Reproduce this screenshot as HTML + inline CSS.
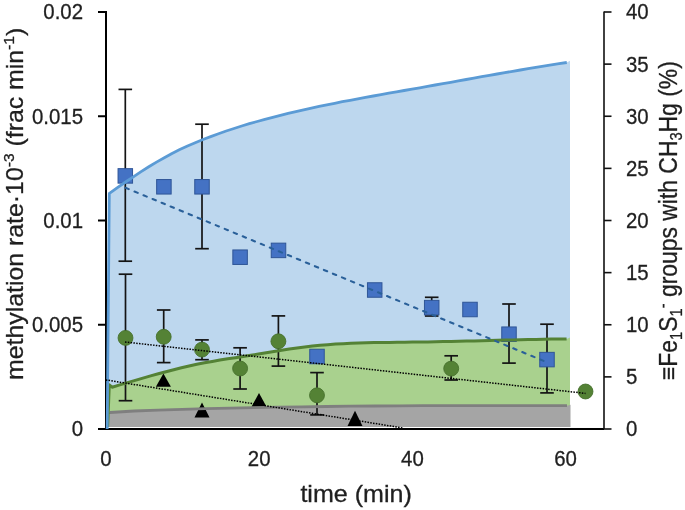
<!DOCTYPE html>
<html><head><meta charset="utf-8"><style>
html,body{margin:0;padding:0;background:#fff;}
svg{display:block;will-change:transform;}
text{font-family:"Liberation Sans",sans-serif;fill:#1f1f1f;stroke:#1f1f1f;stroke-width:0.3px;}
</style></head><body>
<svg width="685" height="510" viewBox="0 0 685 510">
<rect width="685" height="510" fill="#fff"/>
<g stroke="#000" stroke-width="2" fill="none">
<line x1="106" y1="11" x2="106" y2="430"/>
<line x1="98" y1="12" x2="106" y2="12"/><line x1="98" y1="116.25" x2="106" y2="116.25"/><line x1="98" y1="220.5" x2="106" y2="220.5"/><line x1="98" y1="324.75" x2="106" y2="324.75"/><line x1="98" y1="429" x2="106" y2="429"/>
<line x1="98" y1="429" x2="604" y2="429"/>
</g>
<g stroke="#111" stroke-width="1.6" fill="none">
<line x1="604" y1="11.6" x2="604" y2="429"/>
<line x1="604" y1="429.00" x2="611.5" y2="429.00"/><line x1="604" y1="376.88" x2="611.5" y2="376.88"/><line x1="604" y1="324.75" x2="611.5" y2="324.75"/><line x1="604" y1="272.62" x2="611.5" y2="272.62"/><line x1="604" y1="220.50" x2="611.5" y2="220.50"/><line x1="604" y1="168.38" x2="611.5" y2="168.38"/><line x1="604" y1="116.25" x2="611.5" y2="116.25"/><line x1="604" y1="64.12" x2="611.5" y2="64.12"/><line x1="604" y1="12.00" x2="611.5" y2="12.00"/>
</g>
<path d="M107.2,427 L109.3,193.4 L110.1,192.9 117.8,187.4 125.6,182.0 133.3,176.8 141.1,171.7 148.8,166.8 156.5,162.1 164.3,157.7 172.0,153.5 179.8,149.6 187.5,146.0 195.2,142.7 203.0,139.5 210.7,136.6 218.5,133.7 226.2,131.0 234.0,128.5 241.7,126.0 249.4,123.7 257.2,121.5 264.9,119.3 272.7,117.3 280.4,115.3 288.1,113.4 295.9,111.6 303.6,109.8 311.4,108.1 319.1,106.4 326.8,104.8 334.6,103.3 342.3,101.7 350.1,100.3 357.8,98.8 365.5,97.4 373.3,96.0 381.0,94.6 388.8,93.2 396.5,91.8 404.2,90.5 412.0,89.1 419.7,87.8 427.5,86.4 435.2,85.0 442.9,83.6 450.7,82.3 458.4,80.9 466.2,79.5 473.9,78.1 481.7,76.7 489.4,75.3 497.1,74.0 504.9,72.6 512.6,71.3 520.4,70.0 528.1,68.7 535.8,67.4 543.6,66.1 551.3,64.9 559.1,63.7 566.8,62.5 L570,60.8 L570,427 Z" fill="#BDD7EE"/>
<path d="M107.5,427 L109.3,384.8 L112.1,387.2 119.8,384.9 127.5,382.6 135.2,380.4 142.9,378.1 150.6,375.9 158.3,373.8 166.0,371.7 173.7,369.7 181.4,367.8 189.1,366.0 196.8,364.3 204.5,362.8 212.2,361.4 219.9,360.1 227.7,358.8 235.4,357.7 243.1,356.5 250.8,355.3 258.5,354.1 266.2,352.8 273.9,351.5 281.6,350.3 289.3,349.0 297.0,347.9 304.7,346.9 312.4,346.0 320.1,345.3 327.8,344.7 335.5,344.1 343.2,343.7 350.9,343.3 358.6,343.0 366.3,342.8 374.0,342.6 381.7,342.5 389.4,342.4 397.1,342.3 404.8,342.2 412.5,342.1 420.2,342.0 427.9,341.9 435.6,341.7 443.3,341.6 451.0,341.4 458.8,341.2 466.5,341.1 474.2,340.9 481.9,340.7 489.6,340.5 497.3,340.3 505.0,340.1 512.7,339.9 520.4,339.8 528.1,339.6 535.8,339.4 543.5,339.3 551.2,339.1 558.9,339.0 566.6,338.9 L570,337.6 L570,427 Z" fill="#A9D18E"/>
<path d="M107.4,427 L109.9,412.3 L110.0,412.5 134.1,411.0 158.1,410.1 182.2,409.3 206.2,408.6 230.3,408.1 254.3,407.6 278.4,407.2 302.4,406.8 326.5,406.5 350.5,406.2 374.6,406.0 398.6,405.9 422.7,405.7 446.7,405.6 470.8,405.6 494.8,405.6 518.9,405.6 542.9,405.6 567.0,405.7 L570.5,404.7 L570.5,427 Z" fill="#A5A5A5"/>
<g stroke="#141414" stroke-width="1.7" fill="none"><line x1="125.3" y1="89.4" x2="125.3" y2="261.2"/><line x1="118.5" y1="89.4" x2="132.1" y2="89.4"/><line x1="118.5" y1="261.2" x2="132.1" y2="261.2"/><line x1="202" y1="124.2" x2="202" y2="248.7"/><line x1="195.2" y1="124.2" x2="208.8" y2="124.2"/><line x1="195.2" y1="248.7" x2="208.8" y2="248.7"/><line x1="431.7" y1="297.3" x2="431.7" y2="316"/><line x1="424.9" y1="297.3" x2="438.5" y2="297.3"/><line x1="424.9" y1="316" x2="438.5" y2="316"/><line x1="509" y1="304" x2="509" y2="363.1"/><line x1="502.2" y1="304" x2="515.8" y2="304"/><line x1="502.2" y1="363.1" x2="515.8" y2="363.1"/><line x1="547" y1="324.2" x2="547" y2="392.9"/><line x1="540.2" y1="324.2" x2="553.8" y2="324.2"/><line x1="540.2" y1="392.9" x2="553.8" y2="392.9"/><line x1="125.5" y1="274.2" x2="125.5" y2="400.7"/><line x1="118.7" y1="274.2" x2="132.3" y2="274.2"/><line x1="118.7" y1="400.7" x2="132.3" y2="400.7"/><line x1="163.7" y1="310" x2="163.7" y2="362.6"/><line x1="156.89999999999998" y1="310" x2="170.5" y2="310"/><line x1="156.89999999999998" y1="362.6" x2="170.5" y2="362.6"/><line x1="202" y1="339.9" x2="202" y2="359.7"/><line x1="195.2" y1="339.9" x2="208.8" y2="339.9"/><line x1="195.2" y1="359.7" x2="208.8" y2="359.7"/><line x1="240.1" y1="347.8" x2="240.1" y2="389"/><line x1="233.29999999999998" y1="347.8" x2="246.9" y2="347.8"/><line x1="233.29999999999998" y1="389" x2="246.9" y2="389"/><line x1="278.4" y1="315.9" x2="278.4" y2="366.1"/><line x1="271.59999999999997" y1="315.9" x2="285.2" y2="315.9"/><line x1="271.59999999999997" y1="366.1" x2="285.2" y2="366.1"/><line x1="317" y1="372.6" x2="317" y2="414.9"/><line x1="310.2" y1="372.6" x2="323.8" y2="372.6"/><line x1="310.2" y1="414.9" x2="323.8" y2="414.9"/><line x1="451.2" y1="355.8" x2="451.2" y2="380"/><line x1="444.4" y1="355.8" x2="458.0" y2="355.8"/><line x1="444.4" y1="380" x2="458.0" y2="380"/></g>
<g fill="#4472C4" stroke="#2F5597" stroke-width="1"><rect x="118.05" y="168.65" width="14.5" height="14.5"/><rect x="156.65" y="179.55" width="14.5" height="14.5"/><rect x="194.75" y="179.55" width="14.5" height="14.5"/><rect x="232.85" y="249.95" width="14.5" height="14.5"/><rect x="271.25" y="243.15" width="14.5" height="14.5"/><rect x="309.75" y="349.25" width="14.5" height="14.5"/><rect x="367.45" y="282.75" width="14.5" height="14.5"/><rect x="424.45" y="300.35" width="14.5" height="14.5"/><rect x="462.75" y="302.25" width="14.5" height="14.5"/><rect x="501.75" y="326.95" width="14.5" height="14.5"/><rect x="539.75" y="352.35" width="14.5" height="14.5"/></g>
<g fill="#548235" stroke="#46702C" stroke-width="0.9"><circle cx="125.5" cy="337.9" r="7.45"/><circle cx="163.7" cy="336.8" r="7.45"/><circle cx="202" cy="349.6" r="7.45"/><circle cx="240.1" cy="368.5" r="7.45"/><circle cx="278.4" cy="341.3" r="7.45"/><circle cx="317" cy="395.3" r="7.45"/><circle cx="451.2" cy="368.6" r="7.45"/><circle cx="585.5" cy="391.5" r="7.45"/></g>
<g fill="#000"><path d="M163.4,373.4 L170.9,386.7 L155.9,386.7 Z"/><path d="M202,402.4 L209.5,417.6 L194.5,417.6 Z"/><path d="M259,393.1 L266.5,406.8 L251.5,406.8 Z"/><path d="M355,410.7 L362.5,426 L347.5,426 Z"/></g>
<path d="M109.9,412.3 L110.0,412.5 134.1,411.0 158.1,410.1 182.2,409.3 206.2,408.6 230.3,408.1 254.3,407.6 278.4,407.2 302.4,406.8 326.5,406.5 350.5,406.2 374.6,406.0 398.6,405.9 422.7,405.7 446.7,405.6 470.8,405.6 494.8,405.6 518.9,405.6 542.9,405.6 567.0,405.7" fill="none" stroke="#7F7F7F" stroke-width="2.8" stroke-linejoin="round"/>
<path d="M107.6,427 L109.3,384.8 L112.1,387.2 119.8,384.9 127.5,382.6 135.2,380.4 142.9,378.1 150.6,375.9 158.3,373.8 166.0,371.7 173.7,369.7 181.4,367.8 189.1,366.0 196.8,364.3 204.5,362.8 212.2,361.4 219.9,360.1 227.7,358.8 235.4,357.7 243.1,356.5 250.8,355.3 258.5,354.1 266.2,352.8 273.9,351.5 281.6,350.3 289.3,349.0 297.0,347.9 304.7,346.9 312.4,346.0 320.1,345.3 327.8,344.7 335.5,344.1 343.2,343.7 350.9,343.3 358.6,343.0 366.3,342.8 374.0,342.6 381.7,342.5 389.4,342.4 397.1,342.3 404.8,342.2 412.5,342.1 420.2,342.0 427.9,341.9 435.6,341.7 443.3,341.6 451.0,341.4 458.8,341.2 466.5,341.1 474.2,340.9 481.9,340.7 489.6,340.5 497.3,340.3 505.0,340.1 512.7,339.9 520.4,339.8 528.1,339.6 535.8,339.4 543.5,339.3 551.2,339.1 558.9,339.0 566.6,338.9" fill="none" stroke="#548235" stroke-width="3" stroke-linejoin="round"/>
<path d="M107.2,429 L109.3,193.4 L110.1,192.9 117.8,187.4 125.6,182.0 133.3,176.8 141.1,171.7 148.8,166.8 156.5,162.1 164.3,157.7 172.0,153.5 179.8,149.6 187.5,146.0 195.2,142.7 203.0,139.5 210.7,136.6 218.5,133.7 226.2,131.0 234.0,128.5 241.7,126.0 249.4,123.7 257.2,121.5 264.9,119.3 272.7,117.3 280.4,115.3 288.1,113.4 295.9,111.6 303.6,109.8 311.4,108.1 319.1,106.4 326.8,104.8 334.6,103.3 342.3,101.7 350.1,100.3 357.8,98.8 365.5,97.4 373.3,96.0 381.0,94.6 388.8,93.2 396.5,91.8 404.2,90.5 412.0,89.1 419.7,87.8 427.5,86.4 435.2,85.0 442.9,83.6 450.7,82.3 458.4,80.9 466.2,79.5 473.9,78.1 481.7,76.7 489.4,75.3 497.1,74.0 504.9,72.6 512.6,71.3 520.4,70.0 528.1,68.7 535.8,67.4 543.6,66.1 551.3,64.9 559.1,63.7 566.8,62.5" fill="none" stroke="#5B9BD5" stroke-width="2.8" stroke-linejoin="round"/>
<line x1="125.5" y1="187.8" x2="547" y2="362.3" stroke="#2A6099" stroke-width="2.1" stroke-dasharray="3.5 6.26" stroke-linecap="round"/>
<line x1="125" y1="342" x2="585.5" y2="393.4" stroke="#000" stroke-width="1.5" stroke-dasharray="1.5 1.32"/>
<line x1="105.8" y1="379.9" x2="403" y2="428" stroke="#000" stroke-width="1.5" stroke-dasharray="1.5 1.32"/>
<g font-size="21.5">
<text transform="translate(83,19.4) scale(0.95,1)" text-anchor="end">0.02</text><text transform="translate(83,123.7) scale(0.95,1)" text-anchor="end">0.015</text><text transform="translate(83,227.9) scale(0.95,1)" text-anchor="end">0.01</text><text transform="translate(83,332.1) scale(0.95,1)" text-anchor="end">0.005</text><text transform="translate(83,436.4) scale(0.95,1)" text-anchor="end">0</text>
<text transform="translate(626,436.4) scale(0.95,1)">0</text><text transform="translate(626,384.3) scale(0.95,1)">5</text><text transform="translate(626,332.1) scale(0.95,1)">10</text><text transform="translate(626,280.0) scale(0.95,1)">15</text><text transform="translate(626,227.9) scale(0.95,1)">20</text><text transform="translate(626,175.8) scale(0.95,1)">25</text><text transform="translate(626,123.7) scale(0.95,1)">30</text><text transform="translate(626,71.5) scale(0.95,1)">35</text><text transform="translate(626,19.4) scale(0.95,1)">40</text>
<text transform="translate(106.0,466.2) scale(0.95,1)" text-anchor="middle">0</text><text transform="translate(259.2,466.2) scale(0.95,1)" text-anchor="middle">20</text><text transform="translate(412.4,466.2) scale(0.95,1)" text-anchor="middle">40</text><text transform="translate(565.6,466.2) scale(0.95,1)" text-anchor="middle">60</text>
</g>
<text transform="translate(300.4,502.3) scale(1.09,1)" font-size="23">time (min)</text>
<text transform="translate(23,380) rotate(-90) scale(1.036,1)" font-size="24">methylation rate·10<tspan dy="-9" font-size="15">-3</tspan><tspan dy="9"> (frac min</tspan><tspan dy="-9" font-size="15">-1</tspan><tspan dy="9">)</tspan></text>
<text transform="translate(676.6,380) rotate(-90) scale(0.916,1)" font-size="25">≡Fe<tspan dy="5" font-size="16">1</tspan><tspan dy="-5">S</tspan><tspan dy="5" font-size="16">1</tspan><tspan dy="-14" font-size="16">-</tspan><tspan dy="9"> groups with CH</tspan><tspan dy="5" font-size="16">3</tspan><tspan dy="-5">Hg (%)</tspan></text>
</svg>
</body></html>
